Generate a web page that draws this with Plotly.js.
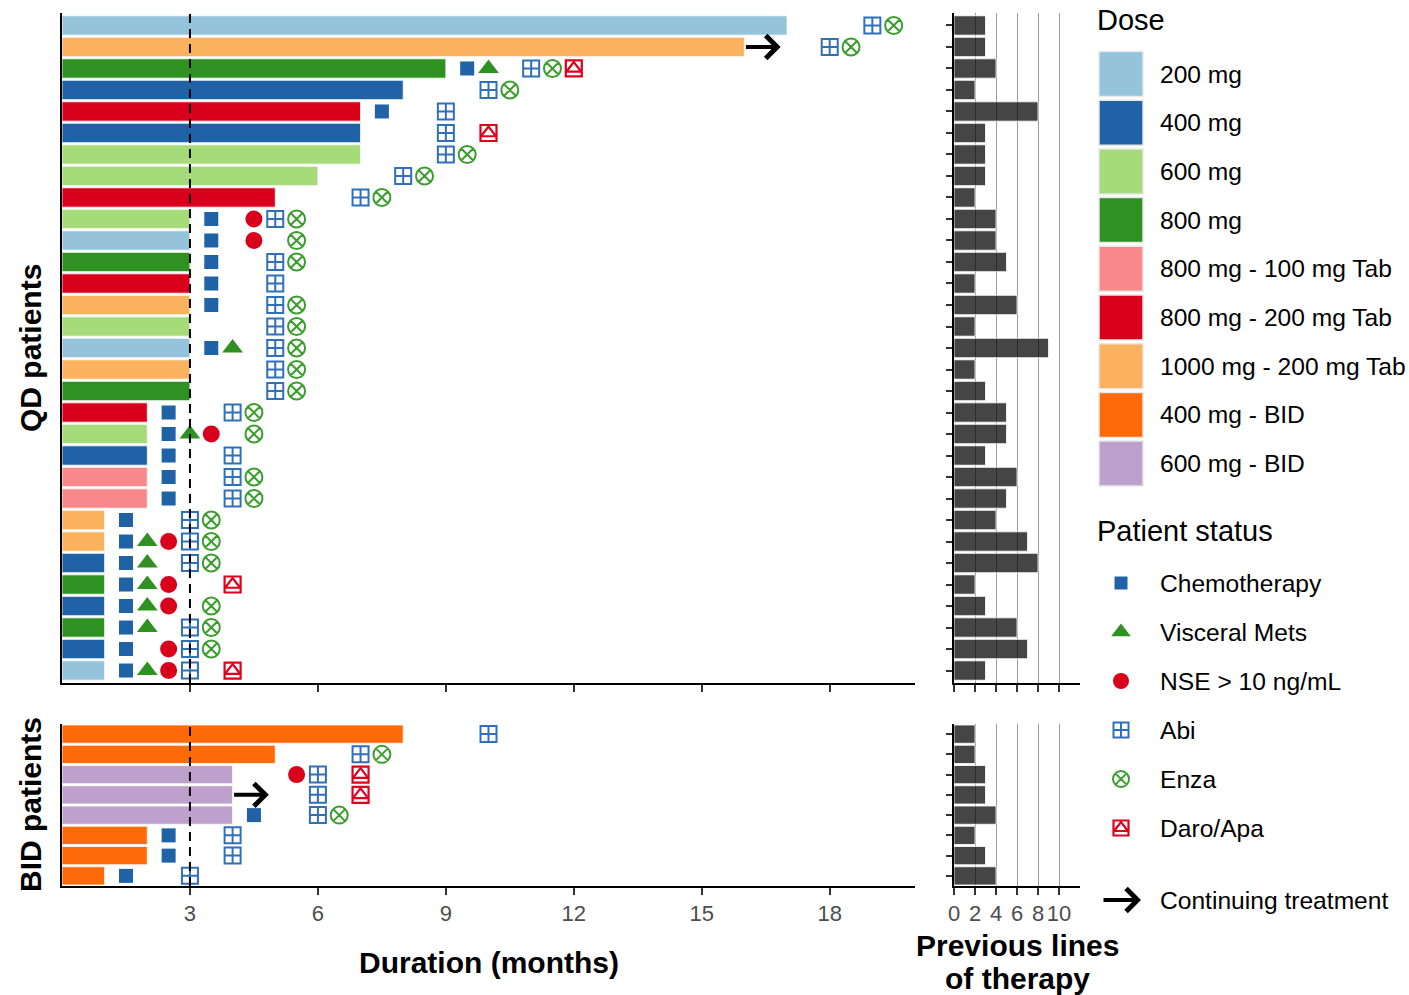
<!DOCTYPE html>
<html>
<head>
<meta charset="utf-8">
<script src="https://cdn.plot.ly/plotly-3.0.1.min.js"></script>
<style>html,body{margin:0;padding:0;background:#fff;}#chart{width:1409px;height:995px;}</style>
</head>
<body>
<div id="chart"></div>
<script>
// ---------------- DATA ----------------
const doseNames  = ["200 mg","400 mg","600 mg","800 mg","800 mg - 100 mg Tab","800 mg - 200 mg Tab","1000 mg - 200 mg Tab","400 mg - BID","600 mg - BID"];
const doseColors = ["#96C3DC","#1F62A5","#A6DB7A","#2F9121","#F8888A","#D9001B","#FBB25E","#FF6A08","#BDA0CB"];

// QD patients (top to bottom)
const qdDur  = [17,16,9,8,7,7,7,6,5,3,3,3,3,3,3,3,3,3,2,2,2,2,2,1,1,1,1,1,1,1,1];
const qdDose = ["200 mg","1000 mg - 200 mg Tab","800 mg","400 mg","800 mg - 200 mg Tab","400 mg","600 mg","600 mg","800 mg - 200 mg Tab",
  "600 mg","200 mg","800 mg","800 mg - 200 mg Tab","1000 mg - 200 mg Tab","600 mg","200 mg","1000 mg - 200 mg Tab","800 mg",
  "800 mg - 200 mg Tab","600 mg","400 mg","800 mg - 100 mg Tab","800 mg - 100 mg Tab",
  "1000 mg - 200 mg Tab","1000 mg - 200 mg Tab","400 mg","800 mg","400 mg","800 mg","400 mg","200 mg"];
const qdPrev = [3,3,4,2,8,3,3,3,2,4,4,5,2,6,2,9,2,3,5,5,3,6,5,4,7,8,2,3,6,7,3];
const qdChemo    = [null,null,9.5,null,7.5,null,null,null,null,3.5,3.5,3.5,3.5,3.5,null,3.5,null,null,2.5,2.5,2.5,2.5,2.5,1.5,1.5,1.5,1.5,1.5,1.5,1.5,1.5];
const qdVisceral = [null,null,10,null,null,null,null,null,null,null,null,null,null,null,null,4,null,null,null,3,null,null,null,null,2,2,2,2,2,null,2];
const qdNSE      = [null,null,null,null,null,null,null,null,null,4.5,4.5,null,null,null,null,null,null,null,null,3.5,null,null,null,null,2.5,null,2.5,2.5,null,2.5,2.5];
const qdAbi      = [19,18,11,10,9,9,9,8,7,5,null,5,5,5,5,5,5,5,4,null,4,4,4,3,3,3,null,null,3,3,3];
const qdEnza     = [19.5,18.5,11.5,10.5,null,null,9.5,8.5,7.5,5.5,5.5,5.5,null,5.5,5.5,5.5,5.5,5.5,4.5,4.5,null,4.5,4.5,3.5,3.5,3.5,null,3.5,3.5,3.5,null];
const qdDaro     = [null,null,12,null,null,10,null,null,null,null,null,null,null,null,null,null,null,null,null,null,null,null,null,null,null,null,4,null,null,null,4];
const qdContinuing = [2];

// BID patients (top to bottom)
const bidDur  = [8,5,4,4,4,2,2,1];
const bidDose = ["400 mg - BID","400 mg - BID","600 mg - BID","600 mg - BID","600 mg - BID","400 mg - BID","400 mg - BID","400 mg - BID"];
const bidPrev = [2,2,3,3,4,2,3,4];
const bidChemo    = [null,null,null,null,4.5,2.5,2.5,1.5];
const bidVisceral = [null,null,null,null,null,null,null,null];
const bidNSE      = [null,null,5.5,null,null,null,null,null];
const bidAbi      = [10,7,6,6,6,4,4,3];
const bidEnza     = [null,7.5,null,null,6.5,null,null,null];
const bidDaro     = [null,null,7,7,null,null,null,null];
const bidContinuing = [4];

const durTicks  = [3,6,9,12,15,18];
const prevTicks = [0,2,4,6,8,10];
const statusNames = ["Chemotherapy","Visceral Mets","NSE > 10 ng/mL","Abi","Enza","Daro/Apa"];

// ---------------- BUILD ----------------
const W = 1409, H = 995;
const FONT = "Liberation Sans, Arial, Helvetica, sans-serif";
const fx = p => p / W, fy = p => 1 - p / H;
const palette = {}; doseNames.forEach((d,i)=>palette[d]=doseColors[i]);

const statusStyle = [
  {sym:"square",      size:14, color:"#1F62A5", lw:0},
  {sym:"triangle-up", size:18, color:"#2F9121", lw:0},
  {sym:"circle",      size:17, color:"#D9001B", lw:0},
  {sym:"square-cross-open", size:16, color:"#3070B8", lw:2},
  {sym:"circle-x-open",     size:17, color:"#3A9E2D", lw:2},
  {sym:"square-open",       size:16, color:"#E0001B", lw:2.2}
];
const qdStatus  = [qdChemo,qdVisceral,qdNSE,qdAbi,qdEnza,qdDaro];
const bidStatus = [bidChemo,bidVisceral,bidNSE,bidAbi,bidEnza,bidDaro];

function pts(arr){ const x=[],y=[]; arr.forEach((v,i)=>{ if(v!==null){x.push(v);y.push(i+1);} }); return {x,y}; }
const rows = a => a.map((_,i)=>i+1);

const traces = [];
function addPanel(dur, dose, prev, status, xa, ya, xb, yb){
  traces.push({type:"bar", orientation:"h", x:dur, y:rows(dur), xaxis:xa, yaxis:ya, width:0.9,
    marker:{color:dose.map(d=>palette[d]), line:{color:"#fff", width:0.8}}, hoverinfo:"x", showlegend:false});
  traces.push({type:"bar", orientation:"h", x:prev, y:rows(prev), xaxis:xb, yaxis:yb, width:0.9,
    marker:{color:"rgba(0,0,0,0.73)", line:{color:"#fff", width:0.8}}, hoverinfo:"x", showlegend:false});
  status.forEach((arr,k)=>{
    const p = pts(arr); const s = statusStyle[k];
    traces.push({type:"scatter", mode:"markers", x:p.x, y:p.y, xaxis:xa, yaxis:ya, name:statusNames[k], showlegend:false,
      marker:{symbol:s.sym, size:s.size, color:s.color, line:{color:s.color, width:s.lw}}});
    if (k===5) {
      traces.push({type:"scatter", mode:"markers", x:p.x, y:p.y, xaxis:xa, yaxis:ya, showlegend:false, hoverinfo:"skip",
        marker:{symbol:"triangle-up-open", size:13, color:s.color, line:{color:s.color, width:2.2}}});
    }
  });
}
addPanel(qdDur, qdDose, qdPrev, qdStatus, "x","y","x3","y3");
addPanel(bidDur, bidDose, bidPrev, bidStatus, "x2","y2","x4","y4");

// legend status keys (on a pixel-space overlay axis)
const legX = 1121, legStatusY0 = 583, legStep = 49;
statusStyle.forEach((s,k)=>{
  traces.push({type:"scatter", mode:"markers", x:[legX], y:[legStatusY0+k*legStep], xaxis:"x5", yaxis:"y5", showlegend:false, hoverinfo:"skip",
    marker:{symbol:s.sym, size:s.size-1, color:s.color, line:{color:s.color, width:s.lw}}});
  if (k===5) traces.push({type:"scatter", mode:"markers", x:[legX], y:[legStatusY0+k*legStep], xaxis:"x5", yaxis:"y5", showlegend:false, hoverinfo:"skip",
    marker:{symbol:"triangle-up-open", size:12, color:s.color, line:{color:s.color, width:2.2}}});
});

const axLine = {showline:true, linecolor:"#000", linewidth:2, zeroline:false, showgrid:false, fixedrange:true};
const tickStyle = {ticks:"outside", ticklen:7, tickwidth:2, tickcolor:"#333"};
const tickFont = {family:FONT, size:22, color:"#4D4D4D"};
const qdY = [fy(683), fy(13)], bidY = [fy(886), fy(724)];
const mainX = [fx(62), fx(915)], prevX = [fx(954), fx(1080)];
const qdRange = [qdDur.length+0.58, 0.42], bidRange = [bidDur.length+0.5, 0.5];

const layout = {
  width:W, height:H, margin:{l:0,r:0,t:0,b:0}, paper_bgcolor:"#fff", plot_bgcolor:"rgba(0,0,0,0)",
  font:{family:FONT, color:"#000"}, showlegend:false, bargap:0,
  xaxis:  Object.assign({}, axLine, tickStyle, {domain:mainX, range:[0,20], anchor:"y",  tickvals:durTicks, showticklabels:false}),
  yaxis:  Object.assign({}, axLine, {domain:qdY, range:qdRange, anchor:"x", ticks:"", showticklabels:false}),
  xaxis2: Object.assign({}, axLine, tickStyle, {domain:mainX, range:[0,20], anchor:"y2", tickvals:durTicks, showticklabels:true, tickfont:tickFont}),
  yaxis2: Object.assign({}, axLine, {domain:bidY, range:bidRange, anchor:"x2", ticks:"", showticklabels:false}),
  xaxis3: Object.assign({}, axLine, tickStyle, {domain:prevX, range:[0,12], anchor:"y3", tickvals:prevTicks, showticklabels:false, showgrid:true, gridcolor:"#9A9A9A", gridwidth:1}),
  yaxis3: Object.assign({}, axLine, tickStyle, {domain:qdY, range:qdRange, anchor:"x3", tickvals:rows(qdDur), ticklen:6, showticklabels:false}),
  xaxis4: Object.assign({}, axLine, tickStyle, {domain:prevX, range:[0,12], anchor:"y4", tickvals:prevTicks, showticklabels:true, tickfont:tickFont, showgrid:true, gridcolor:"#9A9A9A", gridwidth:1}),
  yaxis4: Object.assign({}, axLine, tickStyle, {domain:bidY, range:bidRange, anchor:"x4", tickvals:rows(bidDur), ticklen:6, showticklabels:false}),
  xaxis5: {domain:[0,1], range:[0,W], anchor:"y5", visible:false, fixedrange:true},
  yaxis5: {domain:[0,1], range:[H,0], anchor:"x5", visible:false, fixedrange:true},
  shapes:[], annotations:[]
};

// dashed reference line at 3 months
[["x","y"],["x2","y2"]].forEach(([xa,ya])=>{
  layout.shapes.push({type:"line", xref:xa, yref:ya+" domain", x0:3, x1:3, y0:0, y1:1, line:{color:"#000", width:2, dash:"9px,6px"}});
});

// continuing-treatment arrows
function addArrows(list, dur, xa, ya){
  list.forEach(r=>{
    layout.annotations.push({xref:xa, yref:ya, axref:xa, ayref:ya, x:dur[r-1]+0.85, y:r, ax:dur[r-1], ay:r, text:"",
      showarrow:true, arrowhead:4, arrowsize:1.1, arrowwidth:4, arrowcolor:"#000", standoff:0, startstandoff:0});
  });
}
addArrows(qdContinuing, qdDur, "x","y");
addArrows(bidContinuing, bidDur, "x2","y2");

// titles
const T = (text, x, y, opts) => layout.annotations.push(Object.assign({xref:"x5", yref:"y5", x, y, text, showarrow:false,
  xanchor:"center", yanchor:"middle", font:{family:FONT, size:30, color:"#000"}}, opts||{}));
T("<b>Duration (months)</b>", 489, 962);
T("<b>Previous lines</b>", 1017, 945);
T("<b>of therapy</b>", 1017, 978);
T("<b>QD patients</b>", 30, 348, {textangle:-90});
T("<b>BID patients</b>", 30, 805, {textangle:-90});

// legend: Dose
const legLabelX = 1158, legTitleX = 1095;
T("Dose", legTitleX, 20, {xanchor:"left", font:{family:FONT, size:29, color:"#000"}});
const doseY0 = 74, doseStep = 48.7;
doseNames.forEach((d,i)=>{
  const cy = doseY0 + i*doseStep;
  layout.shapes.push({type:"rect", xref:"x5", yref:"y5", x0:1099, x1:1143, y0:cy-22.5, y1:cy+22.5, fillcolor:doseColors[i], line:{color:"#E8E8E8", width:1.5}});
  T(d, legLabelX, cy, {xanchor:"left", font:{family:FONT, size:24.6, color:"#000"}});
});
// legend: Patient status
T("Patient status", legTitleX, 531, {xanchor:"left", font:{family:FONT, size:29, color:"#000"}});
statusNames.forEach((s,k)=> T(s, legLabelX, legStatusY0 + k*legStep, {xanchor:"left", font:{family:FONT, size:24.6, color:"#000"}}));
layout.annotations.push({xref:"x5", yref:"y5", axref:"x5", ayref:"y5", x:1141, y:900, ax:1102, ay:900, text:"",
  showarrow:true, arrowhead:4, arrowsize:1.1, arrowwidth:4, arrowcolor:"#000", standoff:0, startstandoff:0});
T("Continuing treatment", legLabelX, 900, {xanchor:"left", font:{family:FONT, size:24.6, color:"#000"}});

Plotly.newPlot("chart", traces, layout, {staticPlot:true, displayModeBar:false});
</script>
</body>
</html>
